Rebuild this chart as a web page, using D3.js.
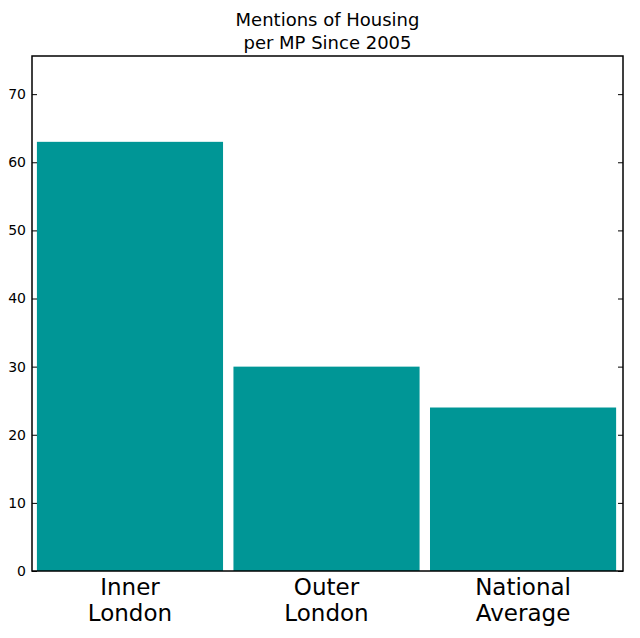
<!DOCTYPE html>
<html><head><meta charset="utf-8">
<script src="https://cdn.jsdelivr.net/npm/d3@7"></script>
<style>body{margin:0;background:#fff}text{font-family:"DejaVu Sans",sans-serif}</style>
</head><body>
<svg id="c" width="640" height="638"></svg>
<script>
const categories = [["Inner","London"],["Outer","London"],["National","Average"]];
const values = [63, 30, 24];
const yTicks = [0,10,20,30,40,50,60,70];
const titleLines = ["Mentions of Housing","per MP Since 2005"];

const svg = d3.select("#c");
const L=32,R=623,T=56,B=571;
const x = d3.scaleLinear().domain([-0.025, 2.982]).range([L,R]);
const y = d3.scaleLinear().domain([0, 75.6]).range([B,T]);
const barW = 0.947;

svg.append("g").selectAll("rect").data(values).join("rect")
  .attr("x",(d,i)=>x(i)).attr("width",(d,i)=>x(i+barW)-x(i))
  .attr("y",d=>y(d)).attr("height",d=>y(0)-y(d))
  .attr("fill","#009696");

svg.append("rect").attr("x",L).attr("y",T).attr("width",R-L).attr("height",B-T)
  .attr("fill","none").attr("stroke","#000").attr("stroke-width",1.5);

const yAxis = svg.append("g").attr("transform",`translate(${L},0)`)
  .call(d3.axisLeft(y).tickValues(yTicks).tickSizeInner(-5).tickSizeOuter(0).tickPadding(6));
yAxis.select(".domain").remove();
yAxis.selectAll("text").attr("font-size",14).attr("font-family","DejaVu Sans").attr("fill","#000");
const yAxisR = svg.append("g").attr("transform",`translate(${R},0)`)
  .call(d3.axisRight(y).tickValues(yTicks).tickSizeInner(-5).tickSizeOuter(0).tickFormat(""));
yAxisR.select(".domain").remove();

const xl = svg.append("g");
categories.forEach((c,i)=>{
  const t = xl.append("text").attr("x",x(i+barW/2)).attr("text-anchor","middle")
    .attr("font-size",23).attr("fill","#000");
  c.forEach((s,j)=>t.append("tspan").attr("x",x(i+barW/2)).attr("y",595+j*26).text(s));
});

const tt = svg.append("text").attr("text-anchor","middle").attr("font-size",18).attr("fill","#000");
titleLines.forEach((s,j)=>tt.append("tspan").attr("x",(L+R)/2).attr("y",26+j*23).text(s));
</script>
</body></html>
